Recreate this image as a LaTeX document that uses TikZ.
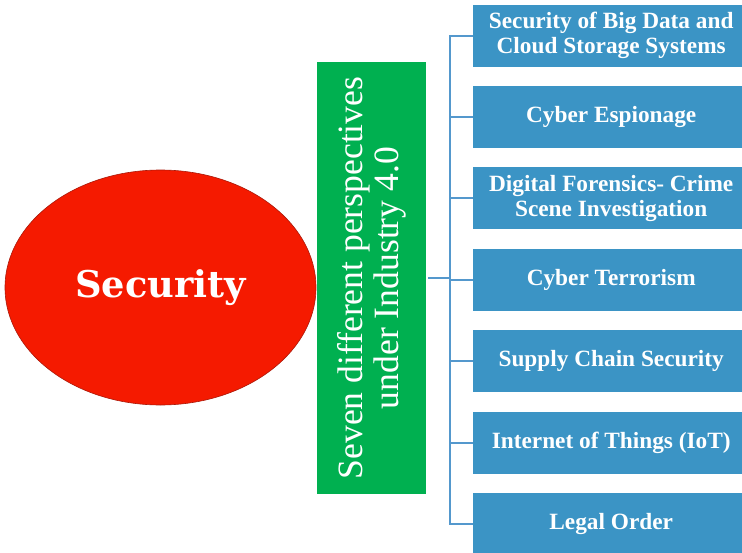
\documentclass[tikz,border=0pt]{standalone}
\usepackage{fontspec}
\setmainfont{Liberation Serif}
\newfontfamily\slabfont{DejaVu Serif}
\usetikzlibrary{positioning,shapes.geometric}
\definecolor{secred}{RGB}{245,26,0}
\definecolor{secedge}{RGB}{170,25,10}
\definecolor{pgreen}{RGB}{0,176,80}
\definecolor{boxblue}{RGB}{59,148,197}
\definecolor{lineblue}{RGB}{84,152,205}
\tikzset{
  pbox/.style={fill=boxblue,minimum width=276pt,minimum height=62pt,inner sep=0pt,
    text=white,align=center,font=\bfseries\fontsize{23.3}{25}\selectfont},
  conn/.style={draw=lineblue,line width=2pt}
}
\begin{document}
\begin{tikzpicture}[x=1pt,y=-1pt]
\useasboundingbox (0,0) rectangle (742,552);
\node(SC)[ellipse,fill=secred,draw=secedge,line width=0.6pt,minimum width=311pt,minimum height=235pt,inner sep=0pt,text=white,font=\slabfont\bfseries\fontsize{36.8}{40}\selectfont] at (160.5,287.5){Security};
\node(PV)[rotate=90,fill=pgreen,minimum width=432pt,minimum height=109pt,inner sep=0pt,text=white,align=center,font=\fontsize{35.6}{36}\selectfont] at (371.5,278){Seven different perspectives\\under Industry 4.0};
\node(P1)[pbox,anchor=west] at (473,35.5){Security of Big Data and\\Cloud Storage Systems};
\node(P2)[pbox,below=19pt of P1]{Cyber Espionage};
\node(P3)[pbox,below=19pt of P2]{Digital Forensics- Crime\\Scene Investigation};
\node(P4)[pbox,below=19pt of P3]{Cyber Terrorism};
\node(P5)[pbox,below=19pt of P4]{Supply Chain Security};
\node(P6)[pbox,below=19pt of P5]{Internet of Things (IoT)};
\node(P7)[pbox,below=19pt of P6]{Legal Order};
% tree
\coordinate (TR) at (449.5,278);
\draw[conn] (P1.west) -- (P1.west -| TR) -- (P7.west -| TR) -- (P7.west);
\foreach \i in {2,...,6}
  \draw[conn] (P\i.west -| TR) -- (P\i.west);
\draw[conn] ([xshift=2pt]PV.south) -- (TR);
\end{tikzpicture}
\end{document}
